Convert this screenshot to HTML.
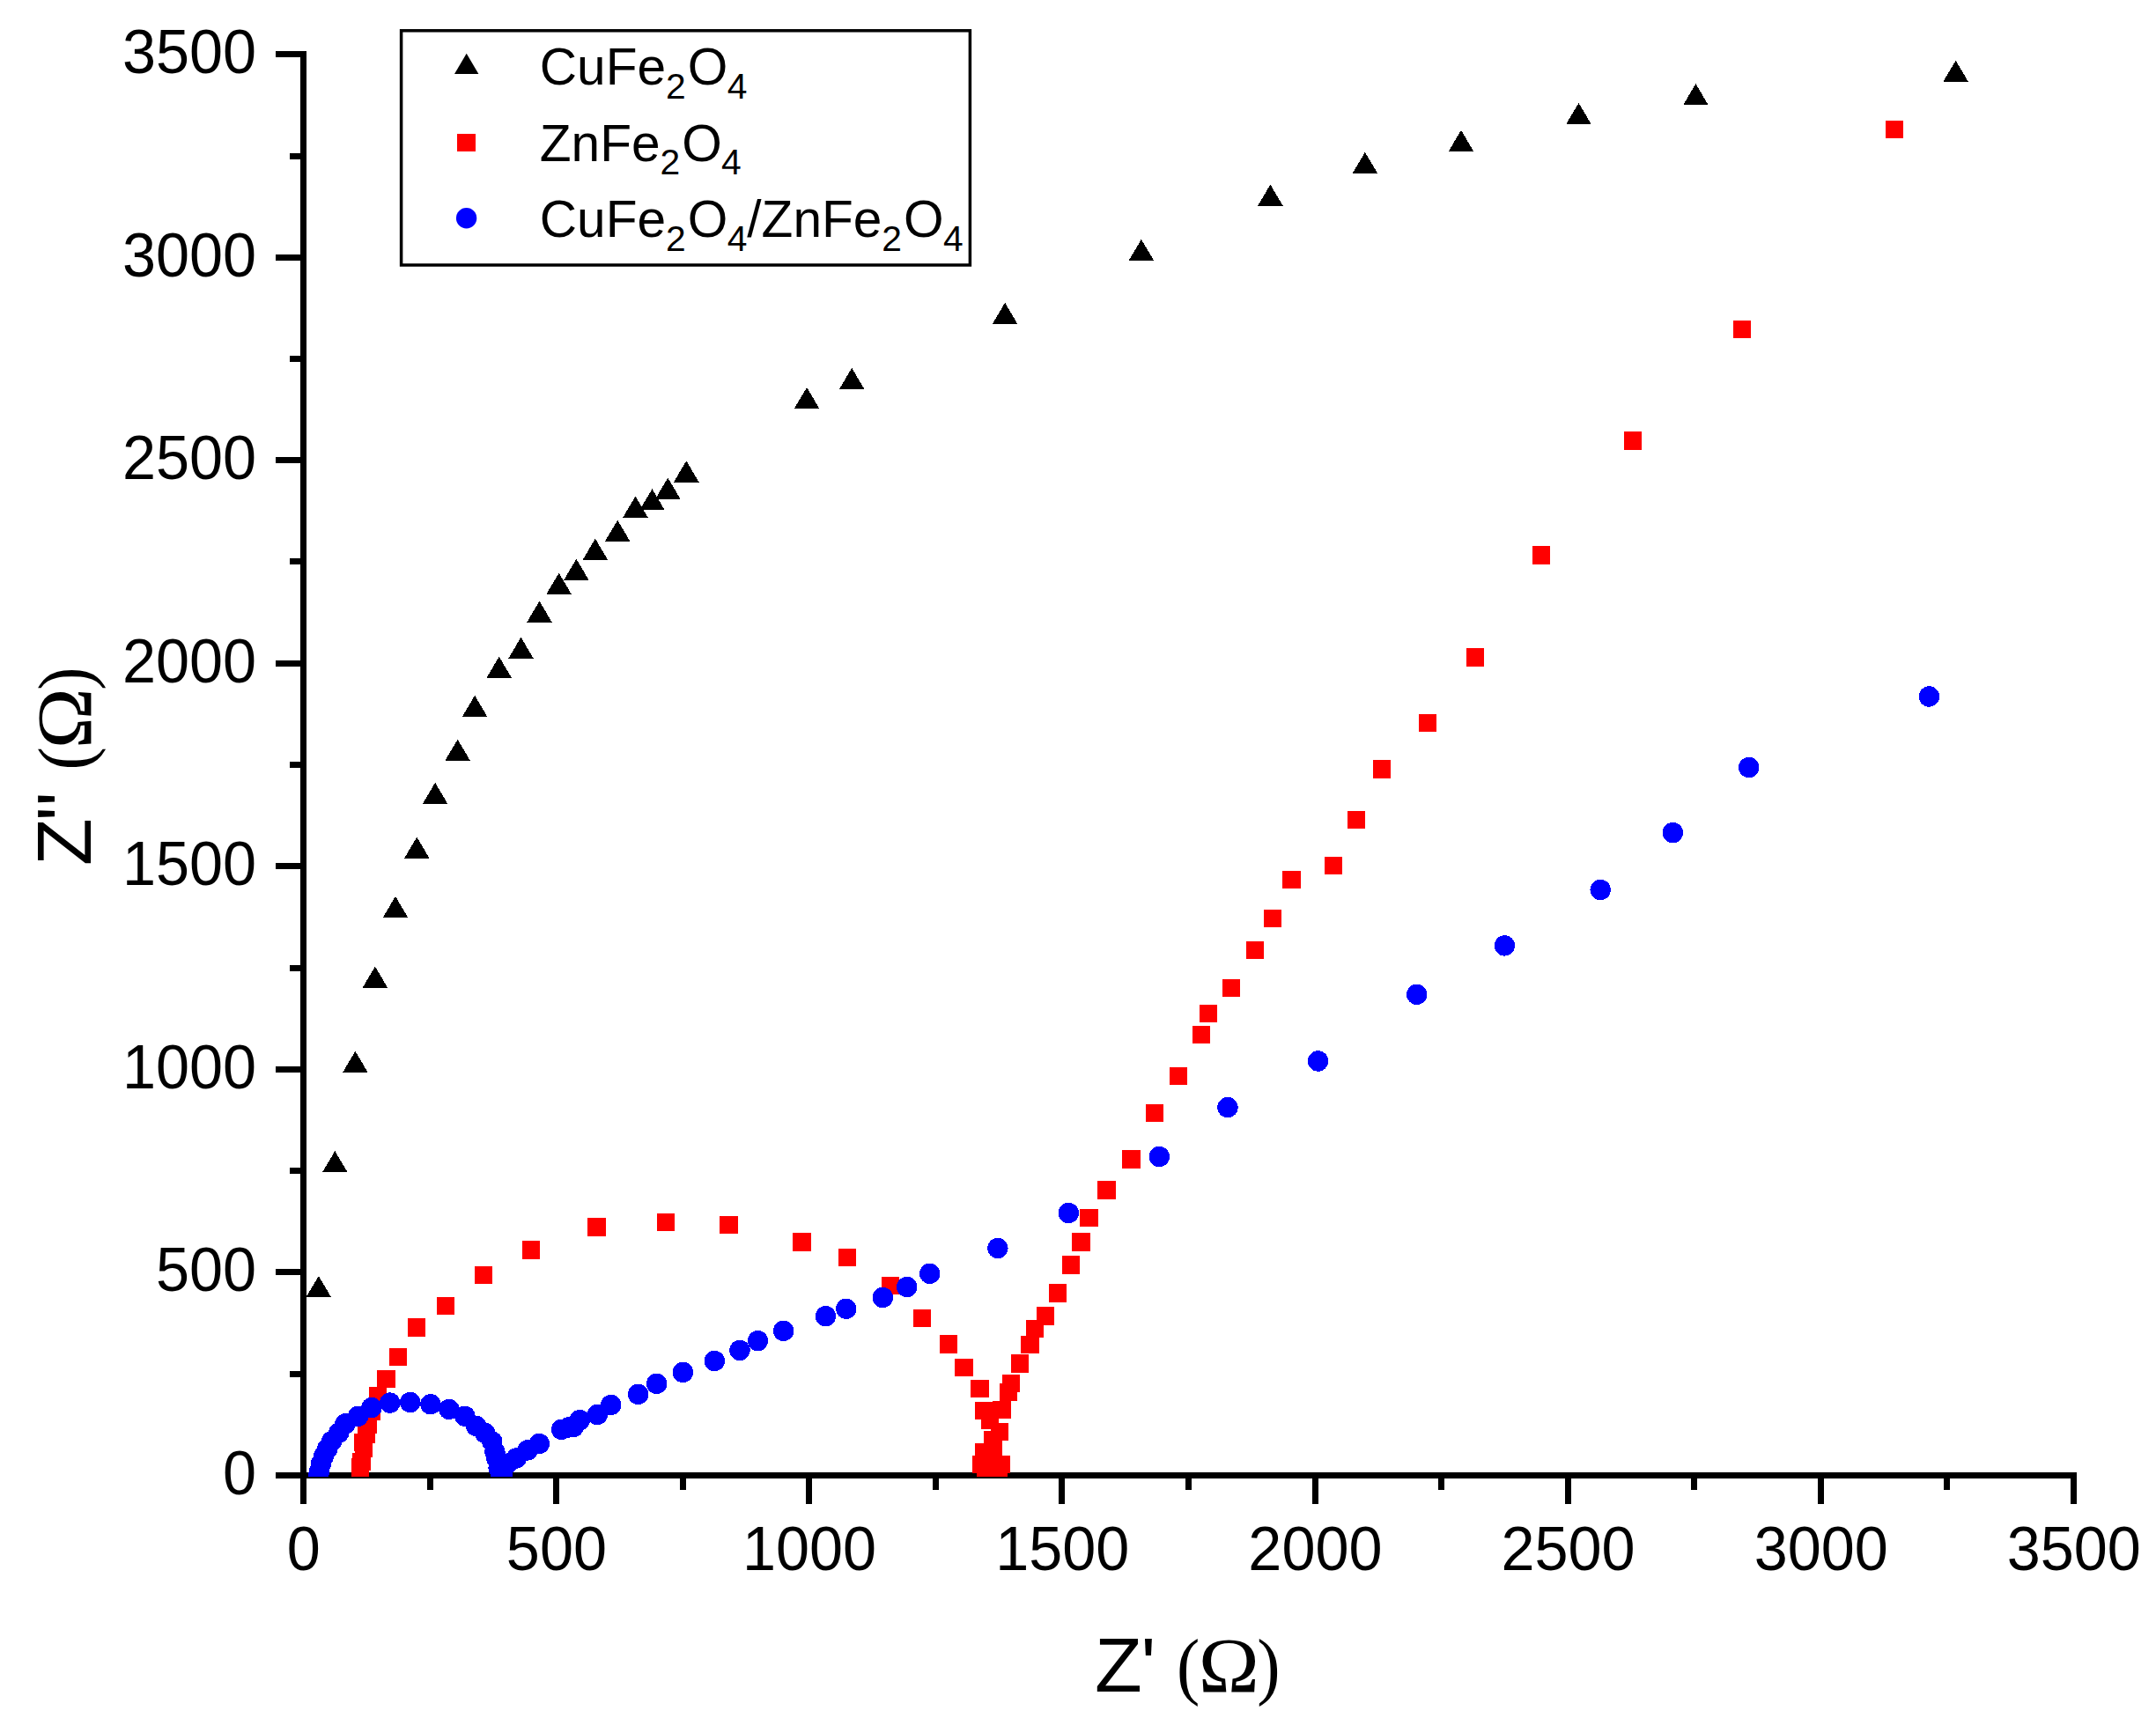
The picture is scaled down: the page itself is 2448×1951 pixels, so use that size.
<!DOCTYPE html>
<html lang="en"><head><meta charset="utf-8"><title>Nyquist plot</title>
<style>html,body{margin:0;padding:0;background:#fff}body{width:2448px;height:1951px;overflow:hidden}svg{display:block}text{font-family:"Liberation Sans",sans-serif;fill:#000}.sf{font-family:"Liberation Serif",serif}</style></head><body>
<svg width="2448" height="1951" viewBox="0 0 2448 1951">
<rect width="2448" height="1951" fill="#fff"/>
<g fill="#000" shape-rendering="crispEdges">
<rect x="341" y="58" width="7" height="1649.5"/>
<rect x="313" y="1672" width="2045" height="7"/>
<rect x="329" y="1556.7" width="13" height="7"/>
<rect x="484.6" y="1678" width="7" height="13.8"/>
<rect x="313" y="1441.4" width="29" height="7"/>
<rect x="628.1" y="1678" width="7" height="29.5"/>
<rect x="329" y="1326.1" width="13" height="7"/>
<rect x="771.7" y="1678" width="7" height="13.8"/>
<rect x="313" y="1210.9" width="29" height="7"/>
<rect x="915.3" y="1678" width="7" height="29.5"/>
<rect x="329" y="1095.6" width="13" height="7"/>
<rect x="1058.9" y="1678" width="7" height="13.8"/>
<rect x="313" y="980.3" width="29" height="7"/>
<rect x="1202.4" y="1678" width="7" height="29.5"/>
<rect x="329" y="865.0" width="13" height="7"/>
<rect x="1346.0" y="1678" width="7" height="13.8"/>
<rect x="313" y="749.7" width="29" height="7"/>
<rect x="1489.6" y="1678" width="7" height="29.5"/>
<rect x="329" y="634.4" width="13" height="7"/>
<rect x="1633.1" y="1678" width="7" height="13.8"/>
<rect x="313" y="519.1" width="29" height="7"/>
<rect x="1776.7" y="1678" width="7" height="29.5"/>
<rect x="329" y="403.9" width="13" height="7"/>
<rect x="1920.3" y="1678" width="7" height="13.8"/>
<rect x="313" y="288.6" width="29" height="7"/>
<rect x="2063.9" y="1678" width="7" height="29.5"/>
<rect x="329" y="174.3" width="13" height="7"/>
<rect x="2207.4" y="1678" width="7" height="13.8"/>
<rect x="313" y="58.0" width="29" height="7"/>
<rect x="2351.0" y="1678" width="7" height="29.5"/>
</g>
<g font-size="71" text-anchor="end">
<text transform="translate(291.0,1697.0) scale(0.963,1)">0</text>
<text transform="translate(291.0,1466.4) scale(0.963,1)">500</text>
<text transform="translate(291.0,1235.9) scale(0.963,1)">1000</text>
<text transform="translate(291.0,1005.3) scale(0.963,1)">1500</text>
<text transform="translate(291.0,774.7) scale(0.963,1)">2000</text>
<text transform="translate(291.0,544.1) scale(0.963,1)">2500</text>
<text transform="translate(291.0,313.6) scale(0.963,1)">3000</text>
<text transform="translate(291.0,83.0) scale(0.963,1)">3500</text>
</g>
<g font-size="71" text-anchor="middle">
<text transform="translate(344.8,1783) scale(0.963,1)">0</text>
<text transform="translate(631.9,1783) scale(0.963,1)">500</text>
<text transform="translate(919.1,1783) scale(0.963,1)">1000</text>
<text transform="translate(1206.2,1783) scale(0.963,1)">1500</text>
<text transform="translate(1493.4,1783) scale(0.963,1)">2000</text>
<text transform="translate(1780.5,1783) scale(0.963,1)">2500</text>
<text transform="translate(2067.7,1783) scale(0.963,1)">3000</text>
<text transform="translate(2354.8,1783) scale(0.963,1)">3500</text>
</g>
<g transform="translate(1243.1,1921)"><text x="0" y="0" font-size="88">Z</text><text x="52.3" y="0" font-size="88">&#39;</text><text class="sf" transform="translate(93.0,-0.9) scale(0.93,1)" font-size="85">(</text><text class="sf" transform="translate(117.7,0) scale(1.056,1)" font-size="88">Ω</text><text class="sf" transform="translate(184.1,-0.9) scale(0.93,1)" font-size="85">)</text></g>
<g transform="translate(103.1,983.1) rotate(-90)"><text x="0" y="0" font-size="88">Z</text><text x="50.7" y="0" font-size="88">&#39;</text><text x="67.4" y="0" font-size="88">&#39;</text><text class="sf" transform="translate(108.5,-0.9) scale(0.93,1)" font-size="85">(</text><text class="sf" transform="translate(132.9,0) scale(1.056,1)" font-size="88">Ω</text><text class="sf" transform="translate(199.4,-0.9) scale(0.93,1)" font-size="85">)</text></g>
<defs><clipPath id="cp"><rect x="343" y="40" width="2080" height="1637"/></clipPath></defs>
<g clip-path="url(#cp)" shape-rendering="crispEdges">
<g fill="#000">
<path d="M361.8 1449.0L376.1 1473.2H347.5Z"/>
<path d="M380.3 1307.1L394.6 1331.3H366.0Z"/>
<path d="M403.4 1193.7L417.7 1217.9H389.1Z"/>
<path d="M425.9 1097.6L440.2 1121.8H411.6Z"/>
<path d="M449.0 1017.9L463.3 1042.1H434.7Z"/>
<path d="M473.3 950.6L487.6 974.8H459.0Z"/>
<path d="M494.1 888.8L508.4 913.0H479.8Z"/>
<path d="M519.6 839.7L533.9 863.9H505.3Z"/>
<path d="M539.1 789.8L553.4 814.0H524.8Z"/>
<path d="M566.7 745.7L581.0 769.9H552.4Z"/>
<path d="M591.5 723.7L605.8 747.9H577.2Z"/>
<path d="M612.5 682.6L626.8 706.8H598.2Z"/>
<path d="M634.6 650.7L648.9 674.9H620.3Z"/>
<path d="M654.4 634.7L668.7 658.9H640.1Z"/>
<path d="M675.9 611.7L690.2 635.9H661.6Z"/>
<path d="M701.2 590.7L715.5 614.9H686.9Z"/>
<path d="M721.5 563.6L735.8 587.8H707.2Z"/>
<path d="M740.5 555.2L754.8 579.4H726.2Z"/>
<path d="M758.3 542.6L772.6 566.8H744.0Z"/>
<path d="M779.3 523.3L793.6 547.5H765.0Z"/>
<path d="M916.1 439.9L930.4 464.1H901.8Z"/>
<path d="M967.2 417.9L981.5 442.1H952.9Z"/>
<path d="M1141.1 343.8L1155.4 368.0H1126.8Z"/>
<path d="M1295.9 271.8L1310.2 296.0H1281.6Z"/>
<path d="M1442.4 209.6L1456.7 233.8H1428.1Z"/>
<path d="M1549.9 172.8L1564.2 197.0H1535.6Z"/>
<path d="M1659.0 147.8L1673.3 172.0H1644.7Z"/>
<path d="M1792.5 116.9L1806.8 141.1H1778.2Z"/>
<path d="M1925.4 95.1L1939.7 119.3H1911.1Z"/>
<path d="M2220.6 68.7L2234.9 92.9H2206.3Z"/>
</g><g fill="#f00">
<rect x="398.8" y="1665.8" width="20.4" height="20.4"/>
<rect x="398.8" y="1655.8" width="20.4" height="20.4"/>
<rect x="400.3" y="1649.7" width="20.4" height="20.4"/>
<rect x="401.9" y="1627.7" width="20.4" height="20.4"/>
<rect x="402.7" y="1634.6" width="20.4" height="20.4"/>
<rect x="405.6" y="1618.7" width="20.4" height="20.4"/>
<rect x="407.5" y="1607.7" width="20.4" height="20.4"/>
<rect x="411.7" y="1592.4" width="20.4" height="20.4"/>
<rect x="418.5" y="1575.3" width="20.4" height="20.4"/>
<rect x="428.3" y="1555.7" width="20.4" height="20.4"/>
<rect x="441.8" y="1530.7" width="20.4" height="20.4"/>
<rect x="462.7" y="1497.2" width="20.4" height="20.4"/>
<rect x="495.8" y="1472.8" width="20.4" height="20.4"/>
<rect x="538.8" y="1437.8" width="20.4" height="20.4"/>
<rect x="592.8" y="1409.1" width="20.4" height="20.4"/>
<rect x="667.2" y="1383.2" width="20.4" height="20.4"/>
<rect x="746.0" y="1377.8" width="20.4" height="20.4"/>
<rect x="817.3" y="1380.8" width="20.4" height="20.4"/>
<rect x="900.3" y="1400.2" width="20.4" height="20.4"/>
<rect x="951.8" y="1417.8" width="20.4" height="20.4"/>
<rect x="1000.7" y="1449.8" width="20.4" height="20.4"/>
<rect x="1036.5" y="1486.6" width="20.4" height="20.4"/>
<rect x="1066.8" y="1516.3" width="20.4" height="20.4"/>
<rect x="1084.3" y="1542.8" width="20.4" height="20.4"/>
<rect x="1102.3" y="1566.8" width="20.4" height="20.4"/>
<rect x="1106.8" y="1591.7" width="20.4" height="20.4"/>
<rect x="1113.7" y="1602.7" width="20.4" height="20.4"/>
<rect x="1124.8" y="1615.7" width="20.4" height="20.4"/>
<rect x="1116.8" y="1624.8" width="20.4" height="20.4"/>
<rect x="1117.8" y="1633.6" width="20.4" height="20.4"/>
<rect x="1106.8" y="1638.8" width="20.4" height="20.4"/>
<rect x="1103.8" y="1652.8" width="20.4" height="20.4"/>
<rect x="1126.8" y="1652.8" width="20.4" height="20.4"/>
<rect x="1108.8" y="1661.8" width="20.4" height="20.4"/>
<rect x="1123.8" y="1664.8" width="20.4" height="20.4"/>
<rect x="1115.8" y="1657.8" width="20.4" height="20.4"/>
<rect x="1127.1" y="1590.7" width="20.4" height="20.4"/>
<rect x="1134.8" y="1570.7" width="20.4" height="20.4"/>
<rect x="1137.8" y="1560.9" width="20.4" height="20.4"/>
<rect x="1147.8" y="1538.4" width="20.4" height="20.4"/>
<rect x="1159.2" y="1516.7" width="20.4" height="20.4"/>
<rect x="1164.8" y="1498.8" width="20.4" height="20.4"/>
<rect x="1176.7" y="1484.2" width="20.4" height="20.4"/>
<rect x="1190.8" y="1458.2" width="20.4" height="20.4"/>
<rect x="1205.6" y="1426.1" width="20.4" height="20.4"/>
<rect x="1217.3" y="1400.4" width="20.4" height="20.4"/>
<rect x="1226.2" y="1372.6" width="20.4" height="20.4"/>
<rect x="1246.4" y="1341.1" width="20.4" height="20.4"/>
<rect x="1274.3" y="1306.2" width="20.4" height="20.4"/>
<rect x="1300.8" y="1253.7" width="20.4" height="20.4"/>
<rect x="1327.7" y="1212.0" width="20.4" height="20.4"/>
<rect x="1353.7" y="1164.9" width="20.4" height="20.4"/>
<rect x="1361.8" y="1140.5" width="20.4" height="20.4"/>
<rect x="1387.8" y="1111.6" width="20.4" height="20.4"/>
<rect x="1414.8" y="1068.7" width="20.4" height="20.4"/>
<rect x="1434.9" y="1032.8" width="20.4" height="20.4"/>
<rect x="1456.4" y="988.8" width="20.4" height="20.4"/>
<rect x="1503.8" y="972.7" width="20.4" height="20.4"/>
<rect x="1529.8" y="920.6" width="20.4" height="20.4"/>
<rect x="1558.7" y="863.3" width="20.4" height="20.4"/>
<rect x="1610.8" y="810.5" width="20.4" height="20.4"/>
<rect x="1664.9" y="736.4" width="20.4" height="20.4"/>
<rect x="1739.6" y="620.4" width="20.4" height="20.4"/>
<rect x="1843.9" y="490.2" width="20.4" height="20.4"/>
<rect x="1967.9" y="363.7" width="20.4" height="20.4"/>
<rect x="2140.7" y="136.8" width="20.4" height="20.4"/>
</g><g fill="#00f">
<circle cx="361.5" cy="1676.5" r="11.7"/>
<circle cx="362.6" cy="1670.7" r="11.7"/>
<circle cx="364.4" cy="1662.1" r="11.7"/>
<circle cx="367.5" cy="1653.6" r="11.7"/>
<circle cx="371.8" cy="1645.0" r="11.7"/>
<circle cx="376.7" cy="1636.5" r="11.7"/>
<circle cx="384.6" cy="1627.3" r="11.7"/>
<circle cx="392.0" cy="1616.9" r="11.7"/>
<circle cx="406.6" cy="1608.3" r="11.7"/>
<circle cx="421.9" cy="1598.6" r="11.7"/>
<circle cx="442.7" cy="1593.1" r="11.7"/>
<circle cx="465.7" cy="1592.5" r="11.7"/>
<circle cx="488.9" cy="1594.7" r="11.7"/>
<circle cx="509.9" cy="1600.4" r="11.7"/>
<circle cx="527.9" cy="1608.3" r="11.7"/>
<circle cx="540.5" cy="1619.3" r="11.7"/>
<circle cx="550.5" cy="1627.3" r="11.7"/>
<circle cx="558.8" cy="1637.1" r="11.7"/>
<circle cx="561.9" cy="1648.7" r="11.7"/>
<circle cx="563.7" cy="1656.0" r="11.7"/>
<circle cx="566.1" cy="1667.0" r="11.7"/>
<circle cx="568.6" cy="1675.6" r="11.7"/>
<circle cx="570.3" cy="1675.0" r="11.7"/>
<circle cx="570.4" cy="1670.7" r="11.7"/>
<circle cx="575.9" cy="1662.1" r="11.7"/>
<circle cx="586.3" cy="1656.0" r="11.7"/>
<circle cx="599.1" cy="1646.9" r="11.7"/>
<circle cx="612.3" cy="1639.5" r="11.7"/>
<circle cx="637.6" cy="1623.3" r="11.7"/>
<circle cx="645.6" cy="1620.9" r="11.7"/>
<circle cx="651.1" cy="1620.6" r="11.7"/>
<circle cx="658.4" cy="1612.6" r="11.7"/>
<circle cx="678.3" cy="1606.5" r="11.7"/>
<circle cx="693.6" cy="1595.5" r="11.7"/>
<circle cx="724.6" cy="1583.4" r="11.7"/>
<circle cx="745.6" cy="1571.4" r="11.7"/>
<circle cx="775.5" cy="1558.5" r="11.7"/>
<circle cx="811.3" cy="1545.5" r="11.7"/>
<circle cx="840.0" cy="1533.4" r="11.7"/>
<circle cx="860.5" cy="1522.6" r="11.7"/>
<circle cx="889.6" cy="1511.4" r="11.7"/>
<circle cx="937.5" cy="1494.6" r="11.7"/>
<circle cx="960.8" cy="1486.3" r="11.7"/>
<circle cx="1002.3" cy="1473.5" r="11.7"/>
<circle cx="1029.7" cy="1461.5" r="11.7"/>
<circle cx="1055.7" cy="1446.3" r="11.7"/>
<circle cx="1132.9" cy="1417.5" r="11.7"/>
<circle cx="1213.4" cy="1377.5" r="11.7"/>
<circle cx="1316.3" cy="1313.5" r="11.7"/>
<circle cx="1394.0" cy="1257.6" r="11.7"/>
<circle cx="1496.6" cy="1205.0" r="11.7"/>
<circle cx="1608.7" cy="1129.3" r="11.7"/>
<circle cx="1708.4" cy="1073.9" r="11.7"/>
<circle cx="1817.2" cy="1010.5" r="11.7"/>
<circle cx="1899.4" cy="945.6" r="11.7"/>
<circle cx="1985.8" cy="871.5" r="11.7"/>
<circle cx="2190.4" cy="791.0" r="11.7"/>
</g></g>
<rect x="455.6" y="34.8" width="645.8" height="266.2" fill="#fff" stroke="#000" stroke-width="3.5"/>
<path d="M529.7 60.7L543.4 84.1H516.0Z" fill="#000"/>
<rect x="519" y="152" width="21" height="20" fill="#f00"/>
<circle cx="529.6" cy="247.7" r="11.7" fill="#00f"/>
<g font-size="59.2">
<text transform="translate(612.8,96.2) scale(0.99,1)"><tspan>CuFe</tspan><tspan font-size="41.2" dy="15.8">2</tspan><tspan dy="-15.8" dx="2">O</tspan><tspan font-size="41.2" dy="15.8" dx="-0.7">4</tspan></text>
<text transform="translate(612.8,182.5) scale(0.99,1)"><tspan>ZnFe</tspan><tspan font-size="41.2" dy="15.8">2</tspan><tspan dy="-15.8" dx="2">O</tspan><tspan font-size="41.2" dy="15.8" dx="-0.7">4</tspan></text>
<text transform="translate(612.8,268.7) scale(0.99,1)"><tspan>CuFe</tspan><tspan font-size="41.2" dy="15.8">2</tspan><tspan dy="-15.8" dx="2">O</tspan><tspan font-size="41.2" dy="15.8" dx="-0.7">4</tspan><tspan dy="-15.8">/ZnFe</tspan><tspan font-size="41.2" dy="15.8">2</tspan><tspan dy="-15.8" dx="2">O</tspan><tspan font-size="41.2" dy="15.8" dx="-0.7">4</tspan></text>
</g>
</svg></body></html>
